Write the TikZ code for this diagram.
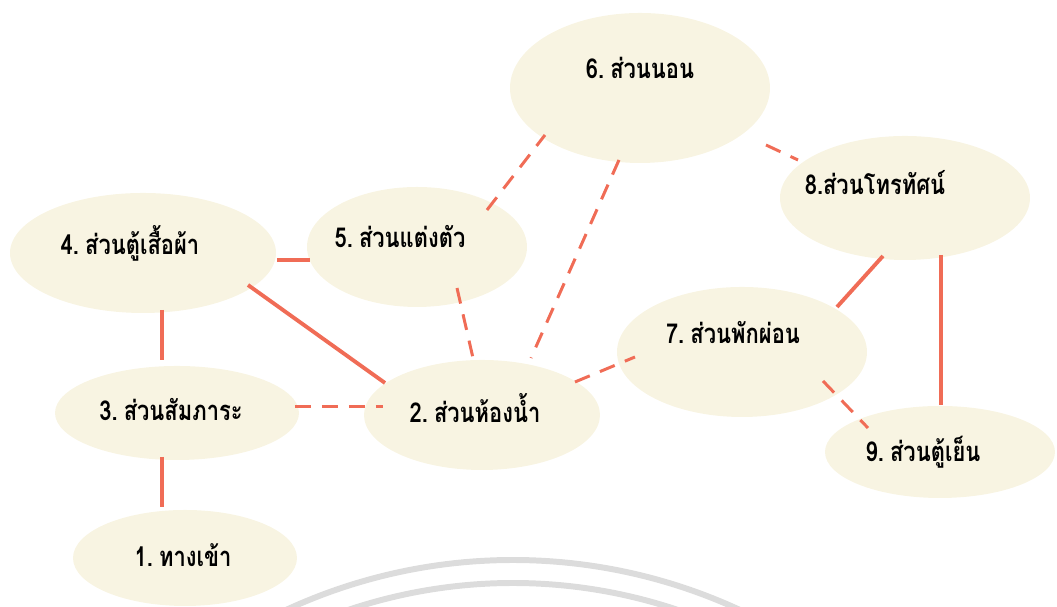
\documentclass[tikz,border=0pt]{standalone}
\usepackage{fontspec}
\newfontfamily\thaifont[Script=Thai,FakeStretch=0.8,WordSpace=0.5]{Loma}
\usetikzlibrary{shapes.geometric,calc}
\definecolor{crema}{RGB}{248,244,226}
\definecolor{salmone}{RGB}{240,108,86}
\definecolor{sigillo}{RGB}{220,220,220}

\begin{document}
\begin{tikzpicture}[
    x=0.1mm, y=-0.1mm,
    font=\thaifont\bfseries\fontsize{7.8}{9}\selectfont,
    zona/.style={ellipse,fill=crema,draw=none,inner sep=0pt,outer sep=0pt},
    legame/.style={salmone,line width=1.1pt},
    legamett/.style={salmone,line width=0.85pt,dash pattern=on 1.6mm off 1.1mm},
    seal/.style={sigillo,line width=1.7pt}]

  \useasboundingbox (0,0) rectangle (1057,607);

  % ---- il sigillo in fondo --------------------------------------------------
  \begin{scope}
    \clip (0,0) rectangle (1057,607);
    \coordinate (sealc) at (513,1100);
    \draw[seal] (sealc) ++(-124:540) arc[start angle=-124,end angle=-56,radius=540];
    \draw[seal] (sealc) ++(-124:517) arc[start angle=-124,end angle=-56,radius=517];
  \end{scope}

  % ---- le zone (testo un po' spostato verso l'alto a sinistra) ---------------
  \node[zona,minimum width=22.4mm,minimum height=9.6mm,
        label={[shift={(-2,-3)}]center:1. ทางเข้า}]        (n1) at (185,558) {};
  \node[zona,minimum width=23.6mm,minimum height=11mm,
        label={[shift={(-7,-7)}]center:2. ส่วนห้องน้ำ}]     (n2) at (482,415) {};
  \node[zona,minimum width=24.4mm,minimum height=9.4mm,
        label={[shift={(-6,-3)}]center:3. ส่วนสัมภาระ}]     (n3) at (177,413) {};
  \node[zona,minimum width=26.6mm,minimum height=12mm,
        label={[shift={(-13,-10)}]center:4. ส่วนตู้เสื้อผ้า}] (n4) at (143,253) {};
  \node[zona,minimum width=22mm,minimum height=12mm,
        label={[shift={(-17,-10)}]center:5. ส่วนแต่งตัว}]    (n5) at (417,247) {};
  \node[zona,minimum width=26mm,minimum height=15mm,
        label={[shift={(0,-20)}]center:6. ส่วนนอน}]         (n6) at (640,88)  {};
  \node[zona,minimum width=25mm,minimum height=13mm,
        label={[shift={(-9,-19)}]center:7. ส่วนพักผ่อน}]     (n7) at (742,352) {};
  \node[zona,minimum width=25mm,minimum height=12.4mm,
        label={[shift={(-30,-15)}]center:8.ส่วนโทรทัศน์}]    (n8) at (905,198) {};
  \node[zona,minimum width=23mm,minimum height=9.2mm,
        label={[shift={(-17,0)}]center:9. ส่วนตู้เย็น}]      (n9) at (940,452) {};

  % ---- i legami continui ----------------------------------------------------
  \foreach \a/\p/\b/\q in {n4/{134,7}/n5/{-107,13}, n4/{105,32}/n2/{-97,-32},
                           n4/{19,57}/n3/{-15,-53}, n3/{-15,44}/n1/{-23,-51},
                           n8/{-22,58}/n7/{95,-45}, n8/{36,57}/n9/{1,-47}}
    \draw[legame] ($(\a)+(\p)$) -- ($(\b)+(\q)$);

  % ---- i legami tratteggiati ------------------------------------------------
  \foreach \a/\p/\b/\q in {n3/{118,-6}/n2/{-99,-8}, n5/{70,-37}/n6/{-95,47},
                           n6/{-21,72}/n2/{49,-57}, n5/{40,41}/n2/{-9,-57},
                           n2/{93,-33}/n7/{-107,5}, n6/{126,57}/n8/{-107,-38},
                           n7/{81,29}/n9/{-72,-24}}
    \draw[legamett] ($(\a)+(\p)$) -- ($(\b)+(\q)$);

\end{tikzpicture}
\end{document}
